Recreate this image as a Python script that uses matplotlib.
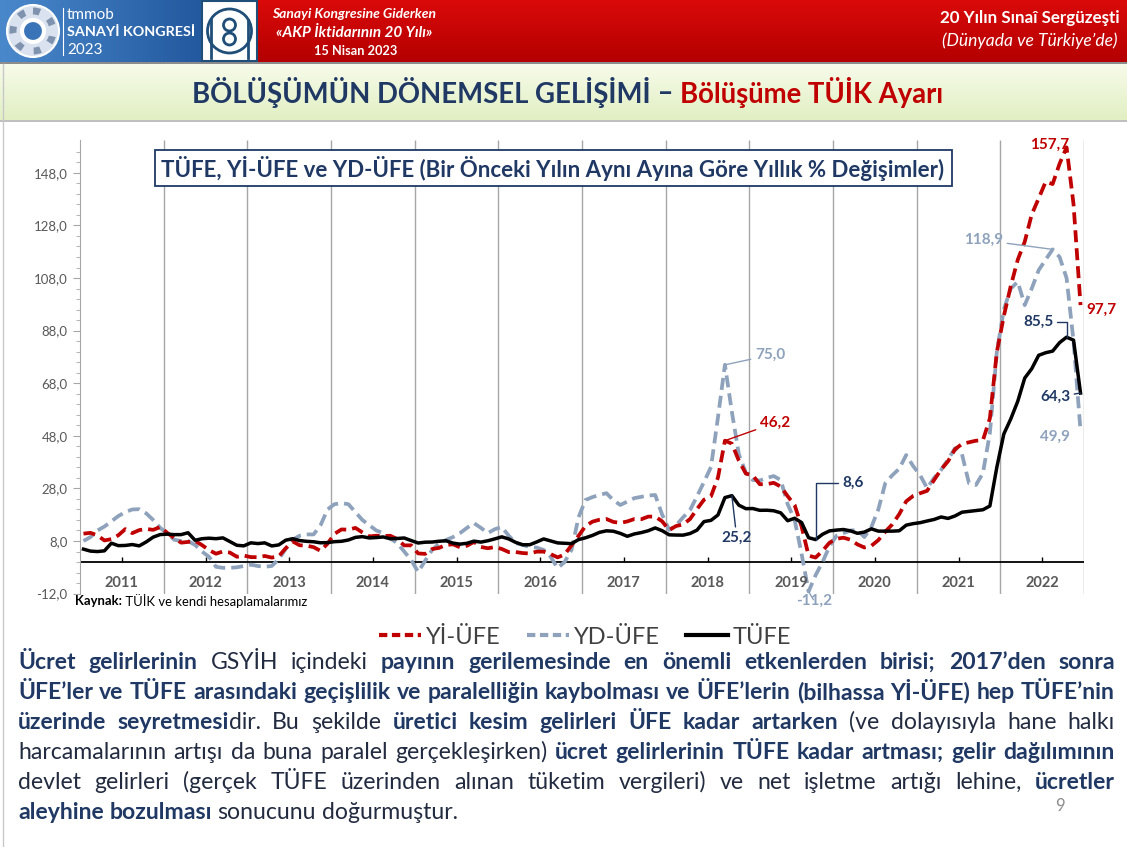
import numpy as np
import matplotlib
matplotlib.use('Agg')
import matplotlib.pyplot as plt
from matplotlib.patches import Rectangle, Circle
from matplotlib.lines import Line2D
from matplotlib.colors import LinearSegmentedColormap

FONT = ['Lato', 'DejaVu Sans']
NARROW = ['Liberation Sans Narrow', 'Lato', 'DejaVu Sans']
NAVY = '#1F3864'
RED = '#C00000'
GREY = '#8EA2BC'

plt.rcParams['font.family'] = FONT

# Data: annual % change, monthly, Jan 2011 - Dec 2022
# ============================================================
years = [str(y) for y in range(2011, 2023)]

tufe = [4.90, 4.16, 3.99, 4.26, 7.17, 6.24, 6.31, 6.65, 6.15, 7.66, 9.48, 10.45,
        10.61, 10.43, 10.43, 11.14, 8.28, 8.87, 9.07, 8.88, 9.19, 7.80, 6.37, 6.16,
        7.31, 7.03, 7.29, 6.13, 6.51, 8.30, 8.88, 8.17, 7.88, 7.71, 7.32, 7.40,
        7.75, 7.89, 8.39, 9.38, 9.66, 9.16, 9.32, 9.54, 8.86, 8.96, 9.15, 8.17,
        7.24, 7.55, 7.61, 7.91, 8.09, 7.20, 6.81, 7.14, 7.95, 7.58, 8.10, 8.81,
        9.58, 8.78, 7.46, 6.57, 6.58, 7.64, 8.79, 8.05, 7.28, 7.16, 7.00, 8.53,
        9.22, 10.13, 11.29, 11.87, 11.72, 10.90, 9.79, 10.68, 11.20, 11.90, 12.98, 11.92,
        10.35, 10.26, 10.23, 10.85, 12.15, 15.39, 15.85, 17.90, 24.52, 25.24, 21.62, 20.30,
        20.35, 19.67, 19.71, 19.50, 18.71, 15.72, 16.65, 15.01, 9.26, 8.55, 10.56, 11.84,
        12.15, 12.37, 11.86, 10.94, 11.39, 12.62, 11.76, 11.77, 11.75, 11.89, 14.03, 14.60,
        14.97, 15.61, 16.19, 17.14, 16.59, 17.53, 18.95, 19.25, 19.58, 19.89, 21.31, 36.08,
        48.69, 54.44, 61.14, 69.97, 73.50, 78.62, 79.60, 80.21, 83.45, 85.51, 84.39, 64.27]

yi_ufe = [10.80, 11.11, 10.14, 8.21, 8.71, 10.19, 12.53, 11.00, 12.15, 12.58, 12.24, 13.33,
          11.13, 9.15, 7.37, 7.65, 8.05, 6.44, 4.56, 3.17, 4.03, 3.60, 2.00, 2.45,
          1.88, 1.84, 2.30, 1.70, 2.17, 5.23, 7.84, 6.38, 6.23, 5.67, 4.26, 6.97,
          10.72, 12.40, 12.31, 12.98, 11.28, 9.75, 10.02, 9.88, 10.01, 8.74, 6.33, 6.36,
          3.28, 3.10, 4.95, 5.38, 6.52, 6.73, 5.62, 6.21, 7.65, 5.74, 5.25, 5.71,
          4.97, 3.78, 3.80, 3.41, 3.25, 3.96, 3.96, 3.03, 1.78, 2.84, 6.41, 9.94,
          13.69, 15.36, 16.09, 16.37, 15.26, 14.87, 15.45, 16.34, 16.28, 17.28, 17.30, 15.47,
          12.14, 13.71, 14.28, 16.37, 20.16, 23.71, 25.00, 32.13, 46.15, 45.01, 38.54, 33.64,
          32.93, 29.59, 29.64, 30.12, 28.71, 25.04, 21.66, 13.45, 2.45, 1.70, 4.26, 7.36,
          8.84, 9.26, 8.50, 6.71, 5.53, 6.17, 8.33, 11.53, 14.33, 18.20, 23.11, 25.15,
          26.16, 27.09, 31.20, 35.17, 38.33, 42.89, 44.92, 45.52, 46.15, 46.31, 54.62, 79.89,
          93.53, 105.01, 114.97, 121.82, 132.16, 138.31, 144.61, 143.75, 151.50, 157.69, 136.02, 97.72]

yd_ufe = [8.0, 9.5, 12.0, 13.5, 15.5, 17.5, 19.0, 20.0, 20.1, 18.5, 16.0, 13.0,
          11.0, 8.5, 8.0, 8.0, 6.5, 4.0, 2.0, -1.8, -2.2, -2.2, -2.0, -1.5,
          -1.0, -1.5, -1.8, -1.5, 1.0, 5.0, 8.5, 10.0, 10.5, 10.5, 14.0, 20.0,
          22.0, 22.4, 22.0, 19.0, 16.0, 14.0, 12.0, 11.0, 9.0, 7.2, 4.0, 0.8,
          -3.8, 0.5, 4.6, 7.0, 8.4, 9.5, 11.0, 13.0, 14.8, 13.0, 11.0, 12.5,
          13.3, 10.0, 7.2, 6.5, 5.7, 5.5, 4.6, 2.0, -2.3, 0.0, 4.6, 17.0,
          23.6, 24.7, 25.5, 26.2, 23.5, 21.7, 23.0, 24.3, 24.8, 25.3, 25.5, 18.0,
          12.2, 14.0, 17.0, 19.8, 25.0, 30.5, 36.1, 55.0, 75.0, 57.0, 41.0, 34.0,
          31.2, 31.0, 32.0, 32.7, 31.2, 22.0, 16.0, 3.0, -11.2, -5.0, 0.0, 6.0,
          10.0, 11.0, 12.0, 12.2, 9.5, 13.3, 20.0, 30.0, 33.0, 35.5, 40.7, 36.5,
          33.0, 28.1, 32.0, 35.0, 39.0, 43.3, 41.0, 30.0, 29.3, 33.8, 49.0, 80.0,
          96.0, 104.0, 106.6, 97.7, 104.0, 111.0, 115.0, 118.9, 116.0, 108.0, 84.0, 49.9]

yticks = [-12, 8, 28, 48, 68, 88, 108, 128, 148]

fig = plt.figure(figsize=(11.27, 8.47), dpi=100)
bg = fig.add_axes([0, 0, 1, 1])
bg.axis('off')
R = fig.canvas.get_renderer()


def fit(t, width):
    w = t.get_window_extent(R).width
    t.set_fontsize(t.get_fontsize() * width / w)
    return t


def runs(x, y, parts, width, family=FONT, **kw):
    ts = [bg.text(x, y, s, color=c, fontweight=w, fontsize=12, family=family,
                  va='center', **kw) for s, c, w in parts]
    tot = sum(t.get_window_extent(R).width for t in ts)
    for t in ts:
        t.set_fontsize(12 * width / tot)
    for t in ts:
        t.set_x(x)
        x += t.get_window_extent(R).width
    return ts


# Header
# ============================================================
grad = np.linspace(0, 1, 256)
bg.imshow(grad.reshape(1, -1), extent=(0, 202, 62, 0), aspect='auto',
          cmap=LinearSegmentedColormap.from_list('b', ['#4A88CC', '#23599E']))
bg.imshow(grad.reshape(-1, 1), extent=(257, 1127, 62, 0), aspect='auto',
          cmap=LinearSegmentedColormap.from_list('r', ['#DA0A0A', '#B40000']))
bg.add_patch(Rectangle((0, 62), 1127, 2.5, fc='#8C8C8C', ec='none'))
bg.add_patch(Circle((33, 31), 26, fc='#D9E2EE', ec='white', lw=1.5))
bg.add_patch(Circle((33, 31), 20, fill=False, ec='#7F93AE', lw=5, ls=':'))
bg.add_patch(Circle((33, 31), 11, fc='#3A74B8', ec='white', lw=3))
bg.plot([63, 63], [8, 55], color='white', lw=0.8)
bg.text(67, 15, 'tmmob', color='white', fontsize=11, va='center')
fit(bg.text(67, 32, 'SANAYİ KONGRESİ', color='white', fontweight='bold', fontsize=12, va='center'), 129)
bg.text(67, 50, '2023', color='white', fontsize=11, va='center')
bg.add_patch(Rectangle((202, 1), 55, 60, fc='white', ec='#1F4E79', lw=1.5))
bg.add_patch(Circle((229.5, 31), 22, fill=False, ec='#1F4E79', lw=2))
bg.add_patch(Circle((229.5, 25), 6, fill=False, ec='#1F4E79', lw=2))
bg.add_patch(Circle((229.5, 39), 6, fill=False, ec='#1F4E79', lw=2))
bg.plot([211, 211], [20, 58], color='#1F4E79', lw=2)
bg.plot([248, 248], [20, 58], color='#1F4E79', lw=2)

fit(bg.text(354, 14, 'Sanayi Kongresine Giderken', color='white', fontweight='bold',
            style='italic', fontsize=9, ha='center', va='center'), 165)
fit(bg.text(354, 33, '«AKP İktidarının 20 Yılı»', color='white', fontweight='bold',
            style='italic', fontsize=9, ha='center', va='center'), 157)
fit(bg.text(356, 51, '15 Nisan 2023', color='white', fontweight='bold', fontsize=9,
            ha='center', va='center'), 83)
fit(bg.text(1120, 18, '20 Yılın Sınaî Sergüzeşti', color='white', fontweight='bold',
            fontsize=11, ha='right', va='center'), 180)
fit(bg.text(1118, 41, '(Dünyada ve Türkiye’de)', color='white', style='italic',
            fontsize=10, ha='right', va='center'), 176)

# Title band
# ============================================================
bg.imshow(grad.reshape(-1, 1), extent=(0, 1127, 120, 64), aspect='auto',
          cmap=LinearSegmentedColormap.from_list('g', ['#F7FBEA', '#E1EFC3']))
bg.add_patch(Rectangle((0, 120), 1127, 2, fc='#BFBFBF', ec='none'))
bg.plot([3, 3], [64, 847], color='#C8C8C8', lw=1)
runs(192, 93, [('BÖLÜŞÜMÜN DÖNEMSEL GELİŞİMİ', NAVY, 'bold'), (' – ', NAVY, 'bold'),
               ('Bölüşüme TÜİK Ayarı', RED, 'bold')], 753, family=NARROW)

# Chart
# ============================================================
ax = fig.add_axes([80 / 1127, 1 - 593.6 / 847, 1004 / 1127, (593.6 - 140) / 847])
ax.patch.set_alpha(0)
x = np.arange(len(tufe))
dash = (0, (3.2, 1.6))
ax.plot(x, yd_ufe, color=GREY, lw=2.7, ls=dash, zorder=3)
ax.plot(x, yi_ufe, color=RED, lw=2.7, ls=dash, zorder=4)
ax.plot(x, tufe, color='black', lw=2.5, zorder=5)
ax.set_xlim(-0.5, len(tufe) - 0.5)
ax.set_ylim(-12, 160.5)
ax.set_yticks(yticks)
ax.set_yticklabels([f'{v:.1f}'.replace('.', ',') for v in yticks])
ax.set_yticks(np.arange(-12, 160, 4), minor=True)
ax.set_xticks([])
ax.tick_params(axis='y', which='major', length=5, color='#A6A6A6', labelcolor='#595959',
               labelsize=9.5, pad=4)
ax.tick_params(axis='y', which='minor', length=3, color='#A6A6A6')
for s in ['top', 'right', 'bottom']:
    ax.spines[s].set_visible(False)
ax.spines['left'].set_color('#A6A6A6')
ax.axhline(0, color='black', lw=1.3, zorder=2)
ax.vlines(np.arange(1, len(years) + 1) * 12 - 0.5, -12, 160.5, color='#A6A6A6', lw=1.0, zorder=1)
ax.vlines(np.arange(len(years)) * 12 + 5.5, 0, 2, color='black', lw=1, zorder=2)
for i, yr in enumerate(years):
    ax.text(i * 12 + 5.5, -7.8, yr, ha='center', va='center', fontsize=10.5,
            fontweight='bold', color='#595959')


def note(txt, xy, xyt, color, ha='center', line=True, conn='arc3'):
    ap = dict(arrowstyle='-', color=color, lw=1, shrinkA=1, shrinkB=0,
              connectionstyle=conn) if line else None
    ax.annotate(txt, xy=xy, xytext=xyt, ha=ha, va='center', color=color, fontsize=11,
                fontweight='bold', arrowprops=ap, annotation_clip=False, zorder=6)


note('157,7', (141, yi_ufe[141]), (138.6, 158.6), RED, line=False)
note('97,7', (143, yi_ufe[143]), (143.9, 95.8), RED, ha='left', line=False)
note('118,9', (139, yd_ufe[139]), (131.9, 122.4), GREY, ha='right')
note('85,5', (141, tufe[141]), (139.1, 91.3), NAVY, ha='right',
     conn='angle,angleA=0,angleB=90,rad=0')
note('64,3', (143, tufe[143]), (141.5, 62.7), NAVY, ha='right')
note('49,9', (143, yd_ufe[143]), (139.4, 47.5), GREY, line=False)
note('75,0', (92, yd_ufe[92]), (96.3, 78.7), GREY, ha='left')
note('46,2', (92, yi_ufe[92]), (97.0, 52.9), RED, ha='left')
note('25,2', (93, tufe[93]), (93.7, 9.1), NAVY)
note('8,6', (105, tufe[105]), (108.8, 30.0), NAVY, ha='left',
     conn='angle,angleA=0,angleB=90,rad=0')
note('-11,2', (104, yd_ufe[104]), (104.8, -14.8), GREY)

ax.add_patch(Rectangle((155, 150), 797, 36, fc='white', ec=NAVY, lw=1.3,
                       transform=bg.transData, clip_on=False, zorder=7))
fit(ax.text(553, 168.5, 'TÜFE, Yİ-ÜFE ve YD-ÜFE (Bir Önceki Yılın Aynı Ayına Göre Yıllık % Değişimler)',
            color=NAVY, fontweight='bold', fontsize=14, ha='center', va='center',
            transform=bg.transData, zorder=8), 785)

runs(75, 601, [('Kaynak:', 'black', 'bold'), (' TÜİK ve kendi hesaplamalarımız', 'black', 'normal')], 230)

# Legend
# ============================================================
handles = [Line2D([], [], color=RED, lw=3, ls=(0, (2, 1.1))),
           Line2D([], [], color=GREY, lw=3, ls=(0, (2, 1.1))),
           Line2D([], [], color='black', lw=3)]
leg = fig.legend(handles, ['Yİ-ÜFE', 'YD-ÜFE', 'TÜFE'], loc='center',
                 bbox_to_anchor=(585 / 1127, 1 - 637 / 847), ncol=3, frameon=False,
                 prop={'family': NARROW, 'size': 17}, handlelength=1.8,
                 handletextpad=0.2, columnspacing=1.1)
for t in leg.get_texts():
    t.set_color('#404040')

# Body text
# ============================================================
body = [
    [('Ücret gelirlerinin ', 1), ('GSYİH içindeki ', 0),
     ('payının gerilemesinde en önemli etkenlerden birisi; 2017’den sonra', 1)],
    [('ÜFE’ler ve TÜFE arasındaki geçişlilik ve paralelliğin kaybolması ve ÜFE’lerin (bilhassa Yİ-ÜFE) hep TÜFE’nin', 1)],
    [('üzerinde seyretmesi', 1), ('dir. Bu şekilde ', 0),
     ('üretici kesim gelirleri ÜFE kadar artarken ', 1), ('(ve dolayısıyla hane halkı', 0)],
    [('harcamalarının artışı da buna paralel gerçekleşirken) ', 0),
     ('ücret gelirlerinin TÜFE kadar artması; gelir dağılımının', 1)],
    [('devlet  gelirleri (gerçek TÜFE üzerinden alınan tüketim vergileri) ve net işletme artığı lehine, ', 0),
     ('ücretler', 1)],
    [('aleyhine bozulması ', 1), ('sonucunu doğurmuştur.', 0)],
]


def to_words(segs):
    words = []
    attach = False
    for t, b in segs:
        for i, p in enumerate(t.split(' ')):
            if i > 0:
                attach = False
            if p:
                if attach and words:
                    words[-1].append((p, b))
                else:
                    words.append([(p, b)])
                attach = True
    return words


def word_texts(words, y, size):
    out = []
    for w in words:
        parts = []
        for p, b in w:
            t = bg.text(0, y, p, fontsize=size, family=NARROW, va='baseline',
                        fontweight='bold' if b else 'normal', color=NAVY if b else '#222B40')
            parts.append((t, t.get_window_extent(R).width))
        out.append(parts)
    return out


# font size so that the all-bold second line fills the column with plain spaces
size0 = 15
a = bg.text(0, 400, 'x x', fontsize=size0, family=NARROW, fontweight='bold')
b = bg.text(0, 400, 'xx', fontsize=size0, family=NARROW, fontweight='bold')
space0 = a.get_window_extent(R).width - b.get_window_extent(R).width
a.remove()
b.remove()
probe = word_texts(to_words(body[1]), 400, size0)
nat = sum(w for parts in probe for _, w in parts) + space0 * (len(probe) - 1)
for parts in probe:
    for t, _ in parts:
        t.remove()
size = size0 * 1097 / nat * 0.995

x0, x1 = 18, 1115
for k, segs in enumerate(body):
    y = 669 + 30 * k
    items = word_texts(to_words(segs), y, size)
    total = sum(w for parts in items for _, w in parts)
    if k < len(body) - 1:
        gap = (x1 - x0 - total) / (len(items) - 1)
    else:
        gap = space0 * size / size0
    xx = x0
    for parts in items:
        for t, w in parts:
            t.set_x(xx)
            xx += w
        xx += gap

bg.text(1060, 806, '9', color='#8C8C8C', fontsize=12, ha='center', va='center')

bg.set_xlim(0, 1127)
bg.set_ylim(847, 0)
fig.savefig('out.png', dpi=100)
